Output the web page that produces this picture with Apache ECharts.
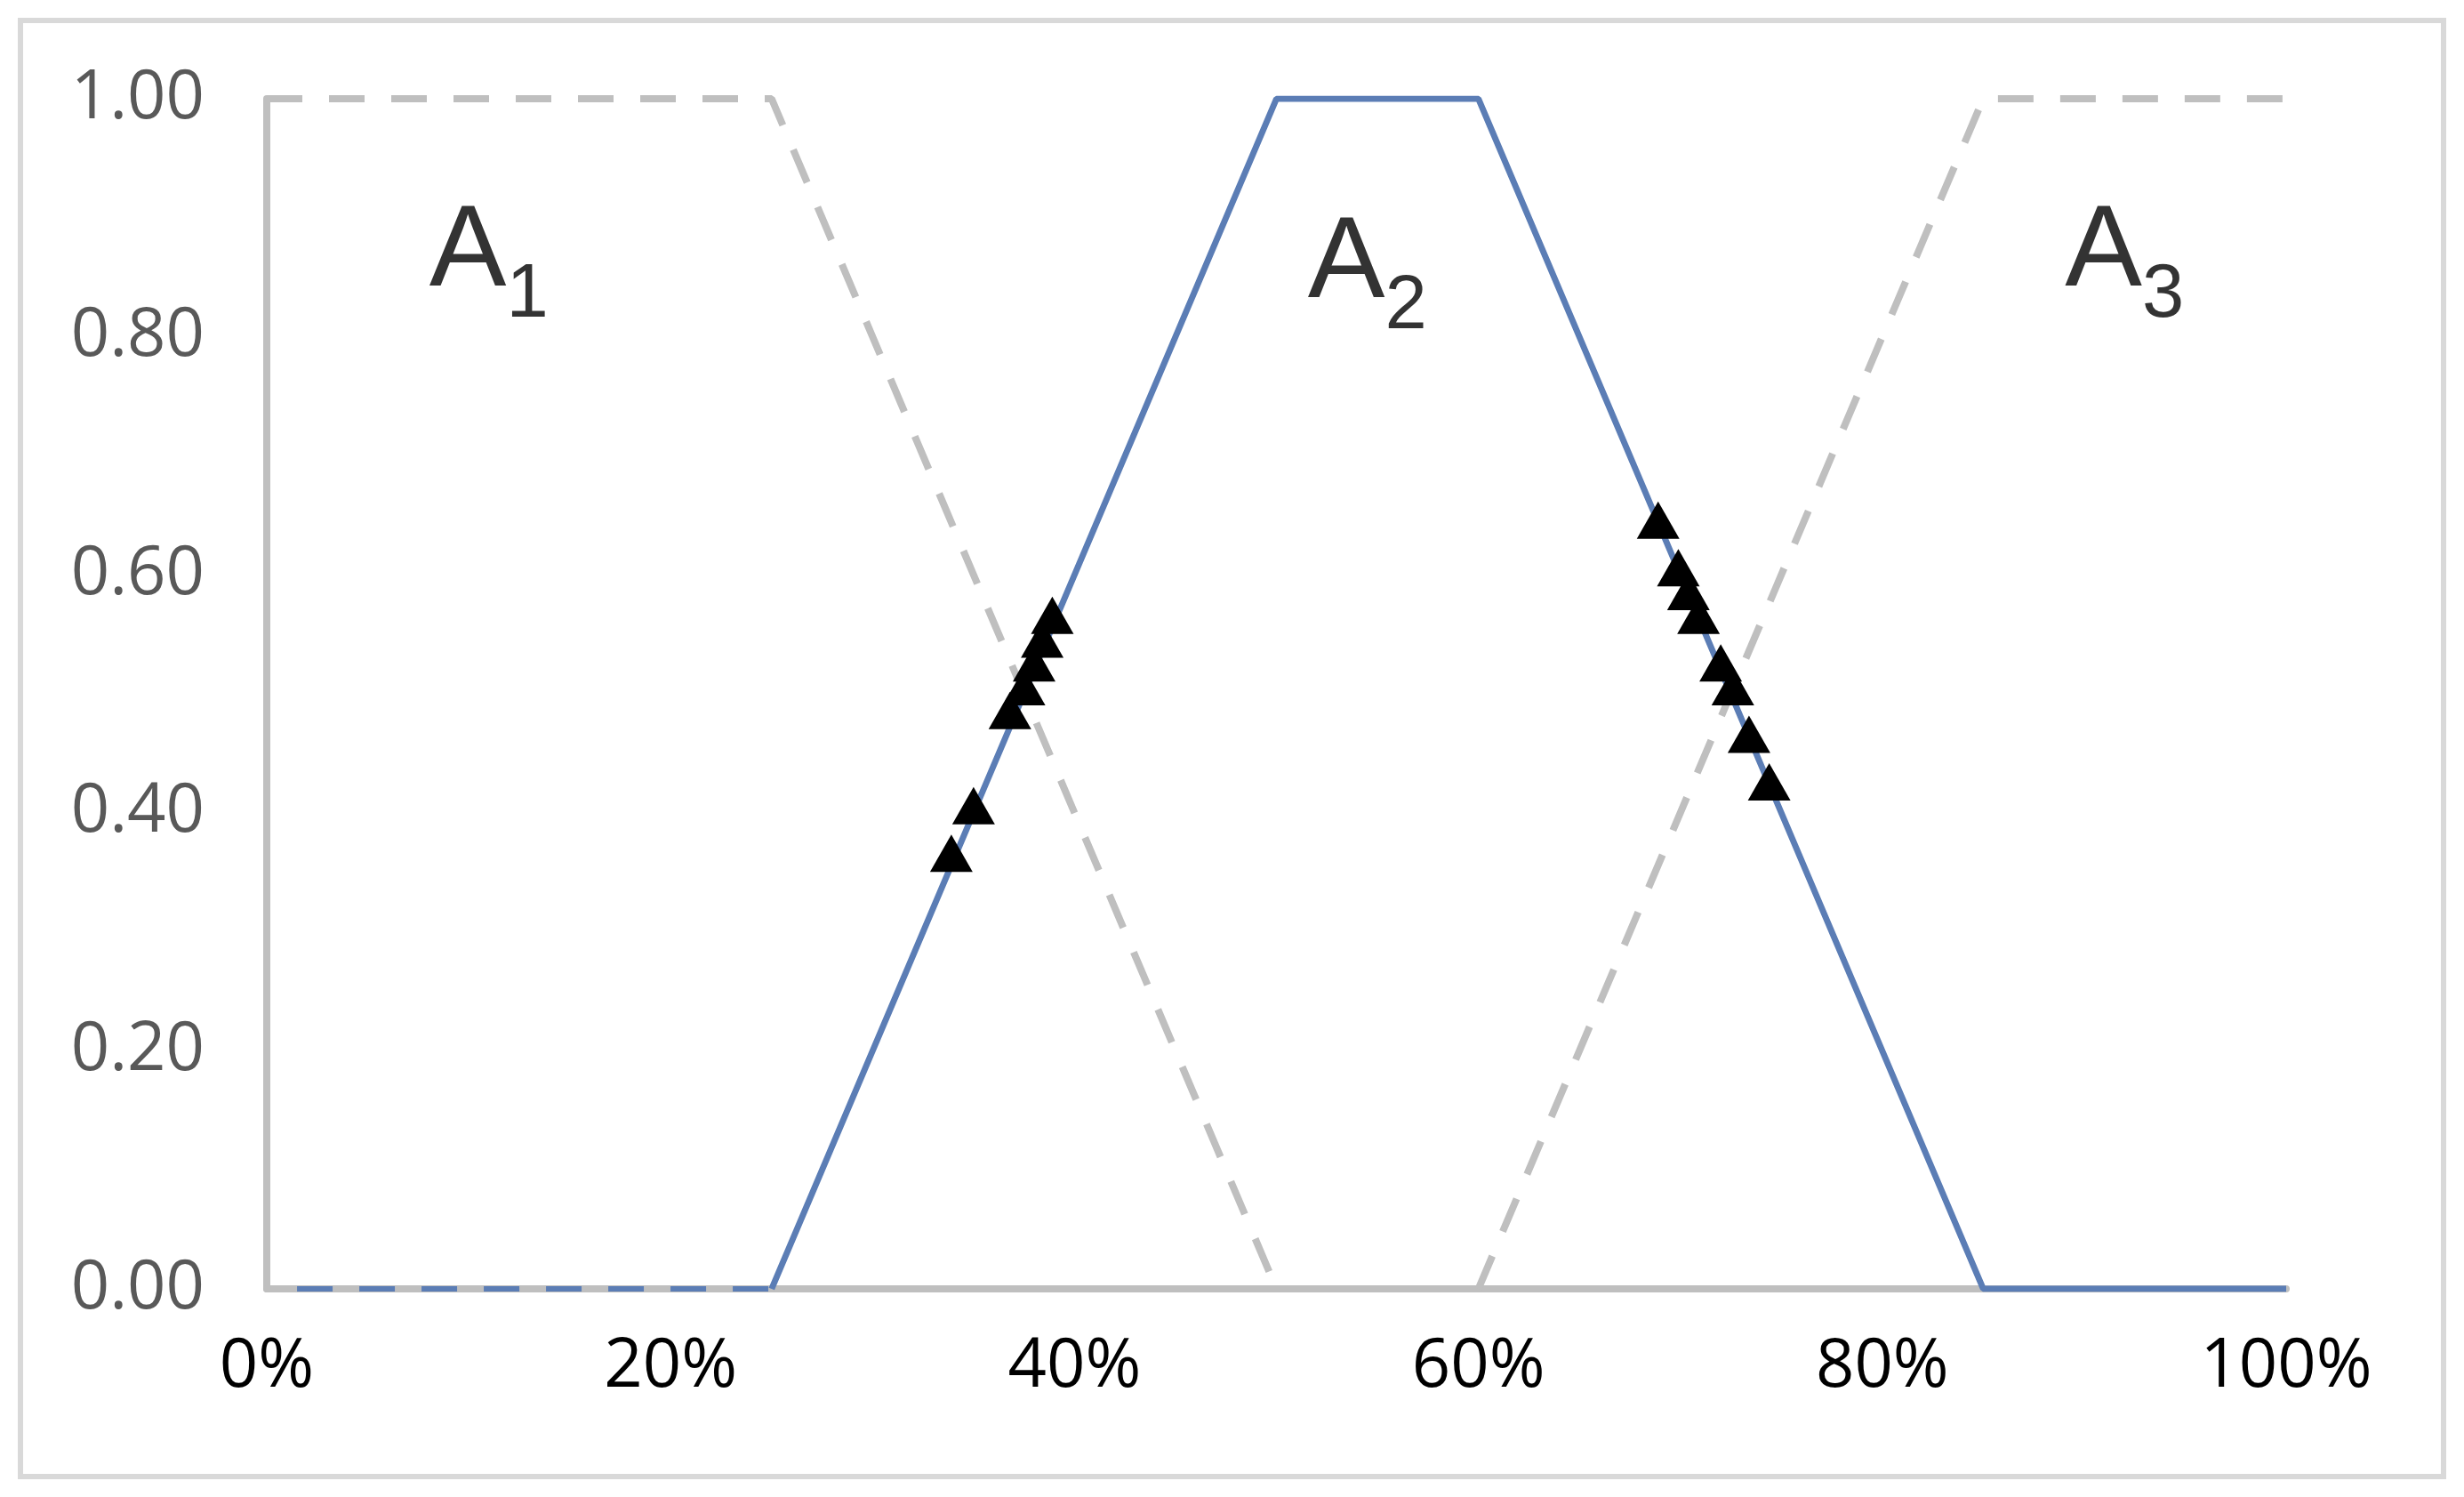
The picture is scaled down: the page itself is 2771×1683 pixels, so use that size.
<!DOCTYPE html>
<html>
<head>
<meta charset="utf-8">
<script src="https://cdn.jsdelivr.net/npm/echarts@6/dist/echarts.min.js"></script>
<style>
  html, body { margin: 0; padding: 0; background: #fff; }
  #frame { position: absolute; left: 20px; top: 20px; width: 2731px; height: 1643px; border: 6px solid #d9d9d9; box-sizing: border-box; }
  #chart { position: absolute; left: 0; top: 0; width: 2771px; height: 1683px; }
</style>
</head>
<body>
<div id="frame"></div>
<div id="chart"></div>
<script>
// membership functions (x in %, y in membership)
const a1 = [[0, 1], [25, 1], [50, 0]];
const a2 = [[25, 0], [50, 1], [60, 1], [85, 0], [100, 0]];
const a2Base = [[1.5, 0], [25, 0]];
const a3 = [[60, 0], [85, 1], [100, 1]];
// observed points
const pts = [
  [33.9, 0.36], [35.0, 0.40], [36.8, 0.48], [37.5, 0.50], [38.0, 0.52], [38.4, 0.54], [38.9, 0.56],
  [68.9, 0.64], [69.9, 0.60], [70.4, 0.58], [70.9, 0.56], [72.0, 0.52], [72.6, 0.50], [73.4, 0.46], [74.4, 0.42]
];
const labels = [
  { name: 'A', sub: '1', x: 11, y: 0.87 },
  { name: 'A', sub: '2', x: 54.5, y: 0.86 },
  { name: 'A', sub: '3', x: 92, y: 0.87 }
];

const font = '"Open Sans", "DejaVu Sans", sans-serif';
const grey = '#bfbfbf';
const blue = '#5b7db5';

let chart = echarts.init(document.getElementById('chart'));
let option = {
  animation: false,
  grid: { left: 300, right: 200, top: 111, bottom: 234 },
  xAxis: {
    type: 'value', min: 0, max: 100, interval: 20,
    axisLine: { show: true, lineStyle: { color: grey, width: 8 } },
    axisTick: { show: false },
    splitLine: { show: false },
    axisLabel: { formatter: '{value}%', color: '#000', fontSize: 76, fontFamily: font, margin: 50 }
  },
  yAxis: {
    type: 'value', min: 0, max: 1, interval: 0.2,
    axisLine: { show: true, lineStyle: { color: grey, width: 8 } },
    axisTick: { show: false },
    splitLine: { show: false },
    axisLabel: { formatter: v => v.toFixed(2), color: '#595959', fontSize: 76, fontFamily: font, margin: 70 }
  },
  series: [
    { type: 'line', data: a1, symbol: 'none', lineStyle: { color: grey, width: 8, type: [40, 30] } },
    { type: 'line', data: a3, symbol: 'none', lineStyle: { color: grey, width: 8, type: [40, 30] } },
    { type: 'line', data: a2Base, symbol: 'none', lineStyle: { color: blue, width: 6, type: [40, 30] } },
    { type: 'line', data: a2, symbol: 'none', lineStyle: { color: blue, width: 7 } },
    {
      type: 'scatter', data: pts, symbol: 'triangle', symbolSize: [48, 42], symbolOffset: [0, -8],
      itemStyle: { color: '#000', opacity: 1 }, z: 5
    },
    {
      type: 'scatter', symbolSize: 0, silent: true,
      data: labels.map(l => ({ value: [l.x, l.y], name: l.name, sub: l.sub })),
      label: {
        show: true, position: 'inside',
        formatter: p => '{a|' + p.data.name + '}{s|' + p.data.sub + '}',
        rich: {
          a: { fontSize: 130, color: '#000', fontFamily: '"Liberation Sans", Arial, sans-serif', verticalAlign: 'bottom' },
          s: { fontSize: 85, color: '#000', fontFamily: '"Liberation Sans", Arial, sans-serif', verticalAlign: 'bottom', padding: [0, 0, -25, 0] }
        }
      }
    }
  ]
};
chart.setOption(option);
</script>
</body>
</html>
